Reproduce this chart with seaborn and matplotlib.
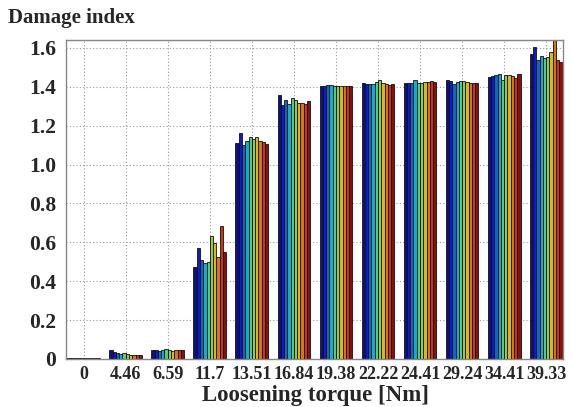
import numpy as np
import pandas as pd
import matplotlib
matplotlib.use("Agg")
import matplotlib.pyplot as plt
import seaborn as sns

torque = ["0", "4.46", "6.59", "11.7", "13.51", "16.84", "19.38", "22.22",
          "24.41", "29.24", "34.41", "39.33"]
series = [f"S{i+1}" for i in range(10)]

d_0     = [0.004, 0.004, 0.004, 0.004, 0.004, 0.004, 0.004, 0.004, 0.004, 0.004]
d_4_46  = [0.045, 0.035, 0.030, 0.025, 0.032, 0.025, 0.020, 0.020, 0.018, 0.020]
d_6_59  = [0.045, 0.045, 0.042, 0.048, 0.052, 0.045, 0.042, 0.045, 0.046, 0.046]
d_11_7  = [0.475, 0.570, 0.510, 0.492, 0.500, 0.630, 0.595, 0.526, 0.686, 0.552]
d_13_51 = [1.110, 1.160, 1.100, 1.120, 1.140, 1.130, 1.140, 1.120, 1.115, 1.105]
d_16_84 = [1.355, 1.305, 1.330, 1.310, 1.340, 1.330, 1.315, 1.315, 1.310, 1.325]
d_19_38 = [1.405, 1.405, 1.410, 1.410, 1.405, 1.405, 1.405, 1.405, 1.405, 1.405]
d_22_22 = [1.420, 1.415, 1.415, 1.415, 1.425, 1.435, 1.420, 1.415, 1.410, 1.415]
d_24_41 = [1.420, 1.420, 1.420, 1.435, 1.420, 1.420, 1.425, 1.425, 1.430, 1.425]
d_29_24 = [1.435, 1.430, 1.415, 1.425, 1.430, 1.430, 1.425, 1.420, 1.420, 1.420]
d_34_41 = [1.450, 1.455, 1.460, 1.465, 1.435, 1.460, 1.460, 1.455, 1.445, 1.465]
d_39_33 = [1.570, 1.605, 1.535, 1.560, 1.550, 1.555, 1.580, 1.640, 1.535, 1.525]

groups = [d_0, d_4_46, d_6_59, d_11_7, d_13_51, d_16_84, d_19_38, d_22_22,
          d_24_41, d_29_24, d_34_41, d_39_33]

yticks = [0, 0.2, 0.4, 0.6, 0.8, 1.0, 1.2, 1.4, 1.6]
ytick_labels = ["0", "0.2", "0.4", "0.6", "0.8", "1.0", "1.2", "1.4", "1.6"]

rows = []
for t, vals in zip(torque, groups):
    for s, v in zip(series, vals):
        rows.append({"torque": t, "series": s, "value": v})
df = pd.DataFrame(rows)

sns.set_style("white")
plt.rcParams["font.family"] = ["Liberation Serif", "DejaVu Serif"]
plt.rcParams["font.weight"] = "bold"

fig = plt.figure(figsize=(5.71, 4.07), dpi=100)
ax = fig.add_axes([0.1156, 0.118, 0.8704, 0.784])

cmap = matplotlib.colormaps["jet"]
palette = []
for x in np.linspace(0.03, 0.97, 10):
    r, g, b, _ = cmap(x)
    palette.append((r * 0.86 + 0.02, g * 0.78 + 0.04, b * 0.80 + 0.03))

sns.barplot(data=df, x="torque", y="value", hue="series", order=torque,
            hue_order=series, palette=palette, width=0.78, dodge=True,
            edgecolor="#111111", linewidth=0.6, legend=False, ax=ax,
            saturation=0.9)

ax.set_xlim(-0.42, 11.40)
ax.set_ylim(0, 1.641)
ax.set_yticks(yticks)
ax.set_yticklabels(ytick_labels)
ax.set_xticks(range(len(torque)))
ax.set_xticklabels(torque)
ax.grid(True, linestyle=(0, (1, 2)), color="#999999", linewidth=0.8)
ax.set_axisbelow(True)
for sp in ax.spines.values():
    sp.set_color("#888888")
    sp.set_linewidth(1.0)
ax.tick_params(axis="both", direction="in", length=3, color="#888888", pad=5)
ax.tick_params(axis="y", labelsize=15.5, pad=7)
ax.tick_params(axis="x", labelsize=13, pad=5)
for lab in ax.get_xticklabels() + ax.get_yticklabels():
    lab.set_fontweight("bold")
ax.set_xlabel("")
ax.set_ylabel("")
fig.text(0.552, 0.029, "Loosening torque [Nm]", fontsize=16.5, fontweight="bold",
         ha="center", va="center")
fig.text(0.014, 0.955, "Damage index", fontsize=15, fontweight="bold",
         ha="left", va="center")

fig.savefig("out.png", dpi=100)
